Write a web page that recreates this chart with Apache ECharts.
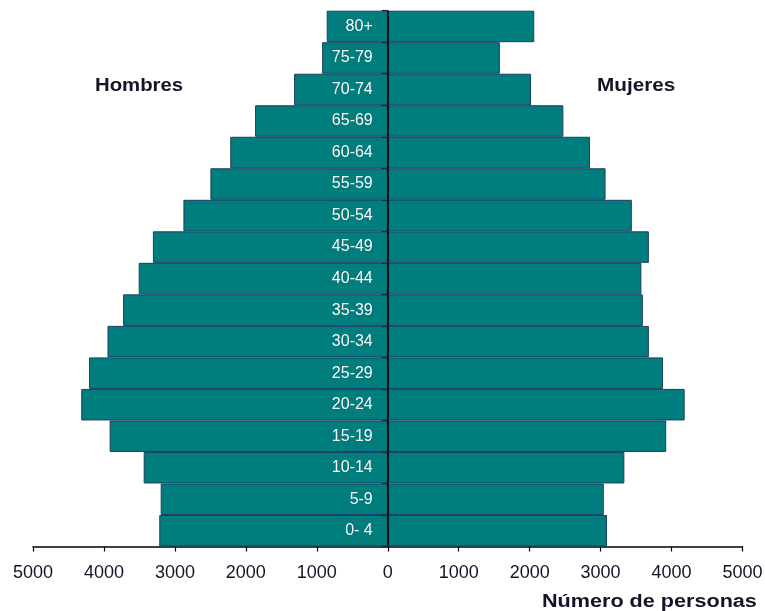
<!DOCTYPE html>
<html>
<head>
<meta charset="utf-8">
<script src="https://cdn.jsdelivr.net/npm/echarts@6/dist/echarts.min.js"></script>
<style>
html, body { margin: 0; padding: 0; background: #fff; }
#chart { width: 765px; height: 611px; }
</style>
</head>
<body>
<div id="chart"></div>
<script>
// Age groups, bottom to top
const ageGroups = ['0- 4', '5-9', '10-14', '15-19', '20-24', '25-29', '30-34', '35-39',
  '40-44', '45-49', '50-54', '55-59', '60-64', '65-69', '70-74', '75-79', '80+'];

// Population by age group (persons)
const hombres = [3220, 3200, 3440, 3920, 4320, 4210, 3950, 3730,
  3510, 3310, 2880, 2500, 2220, 1870, 1320, 925, 860];
const mujeres = [3090, 3045, 3335, 3925, 4185, 3880, 3680, 3595,
  3575, 3680, 3440, 3070, 2850, 2475, 2020, 1580, 2065];

// Axis ticks
const xTicks = { min: -5000, max: 5000, step: 1000 };

const barFill = '#007d7d';
const barEdge = '#1d3d63';
const inkColor = '#141428';
const headFont = 'bold 18px "Liberation Sans", Arial, sans-serif';

const chart = echarts.init(document.getElementById('chart'), null, { renderer: 'canvas' });

chart.setOption({
  animation: false,
  grid: { left: 33, right: 22.5, top: 10.7, bottom: 64.5, containLabel: false, outerBoundsMode: 'none' },
  xAxis: {
    type: 'value',
    min: xTicks.min,
    max: xTicks.max,
    interval: xTicks.step,
    axisLine: { show: true, lineStyle: { color: '#000', width: 1.5 } },
    axisTick: { show: true, length: 5, lineStyle: { color: '#000', width: 1.2 } },
    splitLine: { show: false },
    axisLabel: {
      margin: 18,
      color: inkColor,
      fontSize: 18,
      fontFamily: 'Liberation Sans, Arial, sans-serif',
      formatter: v => String(Math.abs(v))
    }
  },
  yAxis: {
    type: 'category',
    data: ageGroups,
    z: 10,
    axisLine: { show: true, onZero: true, lineStyle: { color: '#000', width: 1.5 } },
    axisTick: { show: true, length: 6, lineStyle: { color: '#0d2a45', width: 1.2 } },
    splitLine: { show: false },
    axisLabel: { show: false }
  },
  series: [
    {
      name: 'Hombres',
      type: 'bar',
      stack: 'piramide',
      barWidth: '100%',
      barCategoryGap: '0%',
      data: hombres.map(v => -v),
      itemStyle: { color: barFill, borderColor: barEdge, borderWidth: 1 },
      // age-group name written inside the men's bar, next to the centre line
      label: {
        show: true,
        position: 'insideRight',
        distance: 15,
        formatter: p => p.name,
        color: '#ffffff',
        fontSize: 16,
        fontFamily: 'Liberation Sans, Arial, sans-serif',
        textShadowColor: 'rgba(0,0,0,0.35)',
        textShadowBlur: 1
      }
    },
    {
      name: 'Mujeres',
      type: 'bar',
      stack: 'piramide',
      barWidth: '100%',
      barCategoryGap: '0%',
      data: mujeres,
      itemStyle: { color: barFill, borderColor: barEdge, borderWidth: 1 }
    }
  ],
  // headings, slightly widened
  graphic: [
    {
      type: 'text', x: 95, y: 77, scaleX: 1.13,
      style: { text: 'Hombres', fill: inkColor, font: headFont }
    },
    {
      type: 'text', x: 597, y: 77, scaleX: 1.15,
      style: { text: 'Mujeres', fill: inkColor, font: headFont }
    },
    {
      type: 'text', x: 542, y: 593, scaleX: 1.2,
      style: { text: 'Número de personas', fill: inkColor, font: headFont }
    }
  ]
});
</script>
</body>
</html>
